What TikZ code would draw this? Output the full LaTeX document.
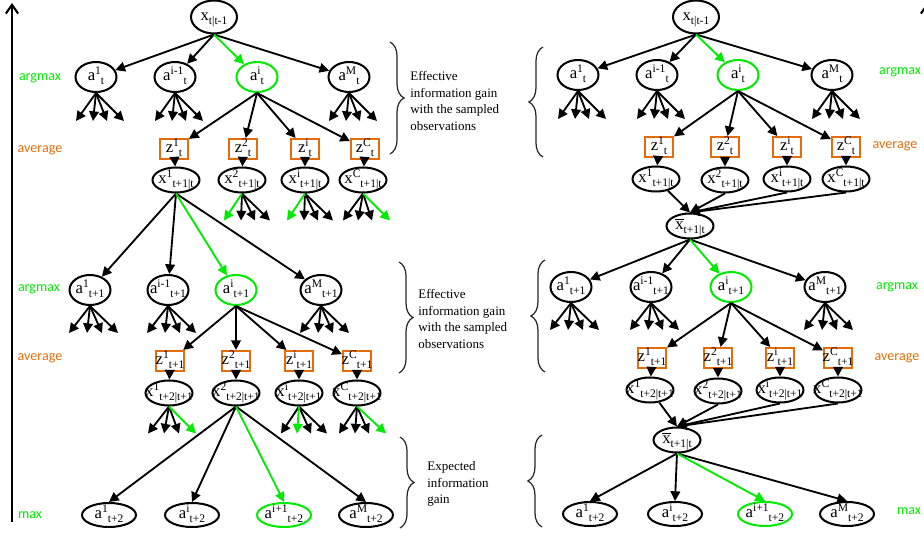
\documentclass[tikz,border=0pt]{standalone}
\usepackage{fontspec}
\setmainfont{Liberation Serif}
\newfontfamily\lblfont{Carlito}
\usetikzlibrary{shapes.geometric,arrows.meta,decorations.pathreplacing}
\definecolor{selgreen}{RGB}{0,235,0}
\definecolor{obsorange}{RGB}{228,108,10}
\newcommand\nodesize{\fontsize{9.5}{11}\selectfont}
\newcommand\idx[2]{\raisebox{#1}{\fontsize{6.6}{7}\selectfont #2}}
\newcommand\lab[3]{\makebox[0pt]{\raisebox{-0.22em}[0pt][0pt]{#1\idx{0.36em}{#2}\idx{-0.22em}{#3}}}}
\begin{document}
\begin{tikzpicture}[x=0.02cm, y=-0.02cm,
		root/.style={ellipse, draw, line width=1.15pt, inner sep=0pt, minimum width=0.92cm, minimum height=0.66cm, font=\nodesize},
		act/.style={ellipse, draw, line width=1.15pt, inner sep=0pt, minimum width=0.82cm, minimum height=0.6cm, font=\nodesize},
		st/.style={ellipse, draw, line width=1.15pt, inner sep=0pt, minimum width=0.94cm, minimum height=0.5cm, font=\nodesize},
		fin/.style={ellipse, draw, line width=1.15pt, inner sep=0pt, minimum width=1.08cm, minimum height=0.48cm, font=\nodesize},
		sel/.style={draw=selgreen},
		obs/.style={rectangle, draw=obsorange, line width=1.15pt, inner sep=0pt, minimum width=0.56cm, minimum height=0.4cm, font=\nodesize},
		arr/.style={-{Triangle[length=5.5pt,width=5.5pt]}, line width=1.05pt},
		garr/.style={arr, draw=selgreen},
		brc/.style={decorate, decoration={brace, amplitude=8pt}, line width=0.7pt, draw=black!85},
		note/.style={align=left, anchor=west, inner sep=0pt, font=\fontsize{7.4}{9.6}\selectfont},
		tag/.style={inner sep=0pt, font=\lblfont\fontsize{8}{9}\selectfont}
	]
	\useasboundingbox (0,0) rectangle (924,537);

	\coordinate (axb) at (12,522);
	\coordinate (axt) at (12,3);
	\draw[line width=1.2pt, -{Straight Barb[length=5pt,width=7pt]}] (axb) -- (axt);
	\coordinate (axrb) at (927,522);
	\coordinate (axrt) at (927,3);
	\draw[line width=1.2pt, -{Straight Barb[length=5pt,width=7pt]}] (axrb) -- (axrt);

	\node[tag, text=selgreen] (gl1) at (40,78) {argmax};
	\node[tag, text=obsorange] (ol1) at (40,150) {average};
	\node[tag, text=selgreen] (gl2) at (39,289) {argmax};
	\node[tag, text=obsorange] (ol2) at (40,358) {average};
	\node[tag, text=selgreen] (ml) at (30,515) {max};
	\node[tag, text=selgreen] (gr1) at (900,72) {argmax};
	\node[tag, text=obsorange] (or1) at (895,146) {average};
	\node[tag, text=selgreen] (gr2) at (897,287) {argmax};
	\node[tag, text=obsorange] (or2) at (897,358) {average};
	\node[tag, text=selgreen] (mr) at (909,511) {max};

	% left tree
	\node[root] (X0L) at (214,17) {\lab{x}{}{t|t-1}};
	\node[act] (aL1) at (96,77) {\lab{a}{1}{t}};
	\node[act] (aL2) at (175,77) {\lab{a}{i-1}{t}};
	\node[act, sel] (aL3) at (257,77) {\lab{a}{i}{t}};
	\node[act] (aL4) at (349,77) {\lab{a}{M}{t}};
	\node[obs] (zL1) at (174,149) {\lab{z}{1}{t}};
	\node[obs] (zL2) at (243,149) {\lab{z}{2}{t}};
	\node[obs] (zL3) at (305,149) {\lab{z}{i}{t}};
	\node[obs] (zL4) at (365,149) {\lab{z}{C}{t}};
	\node[st] (xL1) at (176,180) {\lab{x}{1}{t+1|t}};
	\node[st] (xL2) at (242,180) {\lab{x}{2}{t+1|t}};
	\node[st] (xL3) at (305,180) {\lab{x}{i}{t+1|t}};
	\node[st] (xL4) at (363,180) {\lab{x}{C}{t+1|t}};
	\node[act] (bL1) at (90,290) {\lab{a}{1}{t+1}};
	\node[act] (bL2) at (168,290) {\lab{a}{i-1}{t+1}};
	\node[act, sel] (bL3) at (236,290) {\lab{a}{i}{t+1}};
	\node[act] (bL4) at (321,290) {\lab{a}{M}{t+1}};
	\node[obs] (wL1) at (170,361) {\lab{z}{1}{t+1}};
	\node[obs] (wL2) at (236,361) {\lab{z}{2}{t+1}};
	\node[obs] (wL3) at (299,361) {\lab{z}{i}{t+1}};
	\node[obs] (wL4) at (357,361) {\lab{z}{C}{t+1}};
	\node[st] (yL1) at (169,393) {\lab{x}{1}{t+2|t+1}};
	\node[st] (yL2) at (236,393) {\lab{x}{2}{t+2|t+1}};
	\node[st] (yL3) at (299,393) {\lab{x}{i}{t+2|t+1}};
	\node[st] (yL4) at (357,393) {\lab{x}{C}{t+2|t+1}};
	\node[fin] (cL1) at (109,515) {\lab{a}{1}{t+2}};
	\node[fin] (cL2) at (192,515) {\lab{a}{i}{t+2}};
	\node[fin, sel] (cL3) at (284,515) {\lab{a}{i+1}{t+2}};
	\node[fin] (cL4) at (366,515) {\lab{a}{M}{t+2}};

	% right tree
	\node[root] (X0R) at (696,17) {\lab{x}{}{t|t-1}};
	\node[act] (aR1) at (578,75) {\lab{a}{1}{t}};
	\node[act] (aR2) at (657,75) {\lab{a}{i-1}{t}};
	\node[act, sel] (aR3) at (738,75) {\lab{a}{i}{t}};
	\node[act] (aR4) at (832,75) {\lab{a}{M}{t}};
	\node[obs] (zR1) at (659,147) {\lab{z}{1}{t}};
	\node[obs] (zR2) at (725,147) {\lab{z}{2}{t}};
	\node[obs] (zR3) at (787,147) {\lab{z}{i}{t}};
	\node[obs] (zR4) at (846,147) {\lab{z}{C}{t}};
	\node[st] (xR1) at (656,179) {\lab{x}{1}{t+1|t}};
	\node[st] (xR2) at (725,180) {\lab{x}{2}{t+1|t}};
	\node[st] (xR3) at (787,179) {\lab{x}{i}{t+1|t}};
	\node[st] (xR4) at (846,179) {\lab{x}{C}{t+1|t}};
	\node[st] (mR) at (690,226) {\lab{$\overline{\hbox{x}}$}{}{t+1|t}};
	\node[act] (bR1) at (571,287) {\lab{a}{1}{t+1}};
	\node[act] (bR2) at (651,287) {\lab{a}{i-1}{t+1}};
	\node[act, sel] (bR3) at (731,287) {\lab{a}{i}{t+1}};
	\node[act] (bR4) at (825,287) {\lab{a}{M}{t+1}};
	\node[obs] (wR1) at (652,358) {\lab{z}{1}{t+1}};
	\node[obs] (wR2) at (718,358) {\lab{z}{2}{t+1}};
	\node[obs] (wR3) at (780,358) {\lab{z}{i}{t+1}};
	\node[obs] (wR4) at (838,358) {\lab{z}{C}{t+1}};
	\node[st] (yR1) at (650,390) {\lab{x}{1}{t+2|t+1}};
	\node[st] (yR2) at (718,391) {\lab{x}{2}{t+2|t+1}};
	\node[st] (yR3) at (780,390) {\lab{x}{i}{t+2|t+1}};
	\node[st] (yR4) at (838,390) {\lab{x}{C}{t+2|t+1}};
	\node[st] (nR) at (677,440) {\lab{$\overline{\hbox{x}}$}{}{t+1|t}};
	\node[fin] (cR1) at (590,514) {\lab{a}{1}{t+2}};
	\node[fin] (cR2) at (675,514) {\lab{a}{i}{t+2}};
	\node[fin, sel] (cR3) at (765,514) {\lab{a}{i+1}{t+2}};
	\node[fin] (cR4) at (847,514) {\lab{a}{M}{t+2}};

	\node[note] (t1) at (410,101) {Effective\\information gain\\with the sampled\\observations};
	\node[note] (t2) at (418,319) {Effective\\information gain\\with the sampled\\observations};
	\node[note] (t3) at (427,484) {Expected\\information\\gain};

	\draw[brc] (390,42) -- (390,154);
	\draw[brc] (543,157) -- (543,47);
	\draw[brc] (399,262) -- (399,373);
	\draw[brc] (545,372) -- (545,260);
	\draw[brc] (400,437) -- (400,528);
	\draw[brc] (542,527) -- (542,435);

	% connectors, left
	\draw[arr] (X0L.south) -- (aL1);
	\draw[arr] (X0L.south) -- (aL2);
	\draw[arr] (X0L.south) -- (aL4);
	\draw[garr] (X0L.south) -- (aL3);
	\foreach \n in {1,...,4} {
		\draw[arr] (aL3.south) -- (zL\n);
		\draw[arr] (zL\n) -- (xL\n);
		\draw[arr] (bL3.south) -- (wL\n);
		\draw[arr] (wL\n) -- (yL\n);
	}
	\draw[arr] (xL1.south) -- (bL1);
	\draw[arr] (xL1.south) -- (bL2);
	\draw[arr] (xL1.south) -- (bL4);
	\draw[garr] (xL1.south) -- (bL3);
	\draw[arr] (yL2.south) -- (cL1.north);
	\draw[arr] (yL2.south) -- (cL2.north);
	\draw[arr] (yL2.south) -- (cL4.north);
	\draw[garr] (yL2.south) -- (cL3.north);

	% connectors, right
	\draw[arr] (X0R.south) -- (aR1);
	\draw[arr] (X0R.south) -- (aR2);
	\draw[arr] (X0R.south) -- (aR4);
	\draw[garr] (X0R.south) -- (aR3);
	\foreach \n in {1,...,4} {
		\draw[arr] (aR3.south) -- (zR\n);
		\draw[arr] (zR\n) -- (xR\n);
		\draw[arr] (bR3.south) -- (wR\n);
		\draw[arr] (wR\n) -- (yR\n);
	}
	\draw[arr] (xR1) -- (mR.north);
	\foreach \n in {2,3,4}
		\draw[arr] (xR\n.south) -- (mR.north);
	\draw[arr] (mR.south) -- (bR1);
	\draw[arr] (mR.south) -- (bR2);
	\draw[arr] (mR.south) -- (bR4);
	\draw[garr] (mR.south) -- (bR3);
	\draw[arr] (yR1) -- (nR.north);
	\foreach \n in {2,3,4}
		\draw[arr] (yR\n.south) -- (nR.north);
	\draw[arr] (nR.south) -- (cR1.north);
	\draw[arr] (nR.south) -- (cR2.north);
	\draw[arr] (nR.south) -- (cR4.north);
	\draw[garr] (nR.south) -- (cR3.north);

	% unexpanded branches
	\foreach \n in {aL1,aL2,aL4,aR1,aR2,aR4}
		\foreach \dx in {-20,-3,11,28}
			\draw[arr] (\n.south) -- ++(\dx,28);
	\foreach \n in {bL1,bL2,bL4,bR1,bR2,bR4}
		\foreach \dx in {-21,-3,12,28}
			\draw[arr] (\n.south) -- ++(\dx,27);
	\foreach \n in {xL2,xL3} {
		\foreach \dx in {-1,13,28}
			\draw[arr] (\n.south) -- ++(\dx,27);
		\draw[garr] (\n.south) -- ++(-18,27);
	}
	\foreach \dx in {-20,-5,9}
		\draw[arr] (xL4.south) -- ++(\dx,27);
	\draw[garr] (xL4.south) -- ++(27,27);
	\foreach \dx in {-21,-5,10}
		\draw[arr] (yL1.south) -- ++(\dx,27);
	\draw[garr] (yL1.south) -- ++(27,27);
	\foreach \dx in {-18,12,28}
		\draw[arr] (yL3.south) -- ++(\dx,27);
	\draw[garr] (yL3.south) -- ++(-2,27);
	\foreach \dx in {-18,-2,12}
		\draw[arr] (yL4.south) -- ++(\dx,27);
	\draw[garr] (yL4.south) -- ++(29,27);
\end{tikzpicture}
\end{document}
